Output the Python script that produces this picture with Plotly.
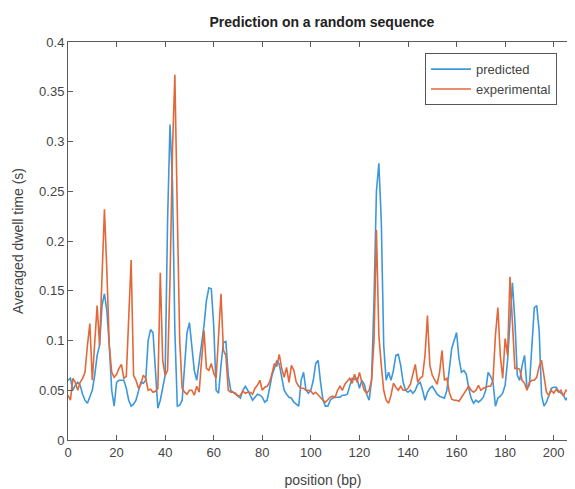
import plotly.graph_objects as go

position = list(range(0, 211))

predicted = [
    0.060, 0.062, 0.050, 0.055, 0.058, 0.055, 0.046, 0.040, 0.037, 0.043,
    0.050, 0.065, 0.085, 0.095, 0.135, 0.147, 0.130, 0.095, 0.050, 0.034,
    0.058, 0.060, 0.060, 0.060, 0.052, 0.040, 0.034, 0.036, 0.040, 0.050,
    0.058, 0.057, 0.060, 0.100, 0.111, 0.108, 0.070, 0.032, 0.040, 0.052,
    0.065, 0.220, 0.317, 0.260, 0.110, 0.034, 0.035, 0.040, 0.070, 0.108,
    0.118, 0.092, 0.070, 0.060, 0.078, 0.095, 0.115, 0.140, 0.153, 0.152,
    0.115, 0.050, 0.047, 0.075, 0.098, 0.099, 0.065, 0.050, 0.048, 0.046,
    0.044, 0.042, 0.050, 0.054, 0.050, 0.045, 0.040, 0.043, 0.046, 0.045,
    0.043, 0.038, 0.040, 0.052, 0.065, 0.072, 0.080, 0.076, 0.062, 0.050,
    0.046, 0.043, 0.042, 0.038, 0.036, 0.034, 0.060, 0.068, 0.050, 0.047,
    0.050, 0.060, 0.077, 0.080, 0.058, 0.040, 0.034, 0.034, 0.040, 0.042,
    0.043, 0.043, 0.043, 0.045, 0.045, 0.046, 0.055, 0.062, 0.061, 0.062,
    0.052, 0.060, 0.056, 0.046, 0.040, 0.060, 0.140, 0.250, 0.278, 0.220,
    0.095, 0.060, 0.068, 0.060, 0.070, 0.085, 0.086, 0.075, 0.058, 0.050,
    0.048, 0.050, 0.047, 0.050, 0.056, 0.058, 0.050, 0.040, 0.048, 0.052,
    0.054, 0.050, 0.046, 0.044, 0.043, 0.042, 0.050, 0.070, 0.092, 0.100,
    0.108, 0.082, 0.068, 0.070, 0.066, 0.052, 0.042, 0.037, 0.040, 0.038,
    0.040, 0.043, 0.050, 0.068, 0.064, 0.058, 0.034, 0.042, 0.044, 0.047,
    0.055, 0.080, 0.120, 0.158, 0.120, 0.065, 0.060, 0.075, 0.085, 0.052,
    0.055, 0.090, 0.133, 0.135, 0.110, 0.045, 0.034, 0.038, 0.046, 0.052,
    0.053, 0.053, 0.049, 0.047, 0.045, 0.040, 0.044, 0.046, 0.048, 0.060,
    0.072,
]

experimental = [
    0.045, 0.040, 0.062, 0.058, 0.050, 0.058, 0.062, 0.068, 0.095, 0.117,
    0.060, 0.095, 0.135, 0.095, 0.160, 0.232, 0.170, 0.095, 0.068, 0.063,
    0.066, 0.072, 0.076, 0.062, 0.064, 0.120, 0.181, 0.065, 0.060, 0.052,
    0.056, 0.065, 0.062, 0.050, 0.051, 0.048, 0.049, 0.052, 0.168, 0.080,
    0.065, 0.070, 0.160, 0.290, 0.367, 0.230, 0.100, 0.052, 0.048, 0.046,
    0.050, 0.050, 0.045, 0.054, 0.048, 0.080, 0.110, 0.072, 0.070, 0.077,
    0.067, 0.062, 0.100, 0.147, 0.090, 0.085, 0.050, 0.048, 0.048, 0.047,
    0.044, 0.045, 0.049, 0.047, 0.048, 0.048, 0.046, 0.052, 0.055, 0.060,
    0.050, 0.053, 0.054, 0.058, 0.067, 0.077, 0.074, 0.086, 0.072, 0.063,
    0.073, 0.058, 0.075, 0.070, 0.058, 0.054, 0.052, 0.052, 0.050, 0.050,
    0.049, 0.046, 0.048, 0.045, 0.042, 0.040, 0.038, 0.041, 0.043, 0.044,
    0.043, 0.050, 0.054, 0.050, 0.056, 0.059, 0.062, 0.057, 0.066, 0.058,
    0.068, 0.058, 0.050, 0.047, 0.050, 0.060, 0.100, 0.211, 0.105, 0.075,
    0.050, 0.040, 0.037, 0.045, 0.057, 0.053, 0.050, 0.054, 0.050, 0.050,
    0.052, 0.056, 0.066, 0.076, 0.058, 0.062, 0.064, 0.085, 0.125, 0.075,
    0.065, 0.060, 0.056, 0.068, 0.090, 0.060, 0.062, 0.048, 0.041, 0.040,
    0.040, 0.039, 0.043, 0.047, 0.050, 0.054, 0.050, 0.048, 0.050, 0.055,
    0.050, 0.052, 0.053, 0.054, 0.054, 0.060, 0.105, 0.133, 0.085, 0.062,
    0.102, 0.085, 0.164, 0.110, 0.072, 0.072, 0.071, 0.060, 0.057, 0.050,
    0.058, 0.060, 0.060, 0.063, 0.074, 0.080, 0.065, 0.048, 0.045, 0.050,
    0.047, 0.051, 0.048, 0.050, 0.044, 0.050, 0.049, 0.054, 0.062, 0.064,
    0.064,
]

x_ticks = list(range(0, 201, 20))
y_ticks = [0, 0.05, 0.1, 0.15, 0.2, 0.25, 0.3, 0.35, 0.4]
y_tick_text = ["0", "0.05", "0.1", "0.15", "0.2", "0.25", "0.3", "0.35", "0.4"]

FONT = "Liberation Sans, Arial, sans-serif"
BLUE = "#3d98db"
ORANGE = "#e2683a"
AXIS = "#5a5a5a"

fig = go.Figure()
fig.add_trace(go.Scatter(x=position, y=predicted, mode="lines", name="predicted",
                         line=dict(color=BLUE, width=1.6)))
fig.add_trace(go.Scatter(x=position, y=experimental, mode="lines", name="experimental",
                         line=dict(color=ORANGE, width=1.6)))

fig.update_layout(
    width=575, height=489,
    margin=dict(l=60, r=5, t=34, b=57),
    paper_bgcolor="white", plot_bgcolor="white",
    font=dict(family=FONT, size=13, color="#444444"),
    title=dict(text="<b>Prediction on a random sequence</b>", x=0.546, xanchor="center",
               y=1 - 14 / 489, yanchor="middle", yref="container",
               font=dict(size=14, color="#222222")),
    legend=dict(x=0.70, y=0.972, xanchor="left", yanchor="top",
                bgcolor="white", bordercolor="#555555", borderwidth=1,
                font=dict(size=13, color="#444444"), tracegroupgap=0,
                itemwidth=40),
    showlegend=True,
)
fig.update_xaxes(range=[0, 210], tickvals=x_ticks, ticks="inside", ticklen=5,
                 tickcolor=AXIS, showline=True, linecolor=AXIS, linewidth=1,
                 mirror="ticks", showgrid=False, zeroline=False,
                 title=dict(text="position (bp)", standoff=16, font=dict(size=14)))
fig.update_yaxes(range=[0, 0.4], tickvals=y_ticks, ticktext=y_tick_text, ticks="inside",
                 ticklen=5, tickcolor=AXIS, showline=True, linecolor=AXIS, linewidth=1,
                 mirror="ticks", showgrid=False, zeroline=False,
                 title=dict(text="Averaged dwell time (s)", standoff=12, font=dict(size=14)))

fig.write_html("out.html")
